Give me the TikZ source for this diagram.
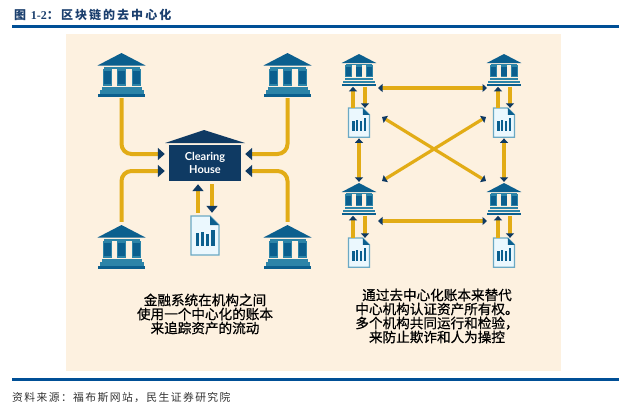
\documentclass[tikz,border=0pt]{standalone}
\usepackage{fontspec}
\setmainfont{Noto Sans CJK SC}
\newfontfamily\titlefont[LetterSpace=17]{Noto Sans CJK SC}
\newfontfamily\sourcefont[LetterSpace=13]{Noto Sans CJK SC}
\newfontfamily\notefont[FakeBold=0.6]{Noto Sans CJK SC}
\newfontfamily\numfont{Liberation Serif}
\newfontfamily\housefont{Lato}
\usetikzlibrary{arrows.meta}
\definecolor{bandblue}{HTML}{004F96}
\definecolor{titleblue}{HTML}{1B3F6E}
\definecolor{creambg}{HTML}{FDF1E0}
\definecolor{navytip}{HTML}{0F3A63}
\definecolor{bankblue}{HTML}{0B5F8E}
\definecolor{bankteal}{HTML}{2C84A8}
\definecolor{docline}{HTML}{6BA9C4}
\definecolor{goldline}{HTML}{E2AC16}
\tikzset{
  goldbig/.style={draw=goldline,line width=4pt,rounded corners=10pt,shorten >=4pt,
    -{Bar[width=0pt,length=0pt,sep=2pt]Triangle[length=7pt,width=12pt,color=navytip]}},
  goldmid/.style={draw=goldline,line width=3.5pt,
    -{Bar[width=0pt,length=0pt,sep=1pt]Triangle[length=7pt,width=11pt,color=navytip]}},
  goldsmall/.style={draw=goldline,line width=3.2pt,
    -{Triangle[length=4.5pt,width=8pt,color=navytip]}},
  goldboth/.style={draw=goldline,line width=3.2pt,
    {Triangle[length=4.5pt,width=8pt,color=navytip]}-{Triangle[length=4.5pt,width=8pt,color=navytip]}},
  notetext/.style={align=center,text=black,font=\notefont\fontsize{13.6}{14}\selectfont,inner sep=0pt},
  pics/bank/.style={code={
    \node[transform shape,minimum width=47pt,minimum height=44pt,inner sep=0pt] (-box) at (0,22) {};
    \fill[bankblue] (0,0) -- (24,12.5) -- (-24,12.5) -- cycle;
    \fill[bankteal] (-18,13.5) rectangle (18,15.5);
    \foreach \cx in {-14.5,0,14.5} {
      \fill[bankteal] (\cx-4.5,15.5) rectangle (\cx+4.5,32.5);
      \fill[bankblue] (\cx-3.5,18) rectangle (\cx+3.5,31);
    }
    \fill[bankteal] (-20,33.5) rectangle (20,36.5);
    \fill[bankteal] (-22,37) rectangle (22,40.5);
    \fill[bankblue] (-23.5,41) rectangle (23.5,44);
  }},
  pics/report/.style={code={
    \node[transform shape,minimum width=28pt,minimum height=39pt,inner sep=0pt] (-box) at (0,19.5) {};
    \draw[docline,fill=white!92!cyan,line width=1.2pt]
      (-14,0) -- (5,0) -- (14,9) -- (14,39) -- (-14,39) -- cycle;
    \fill[bankblue] (5,0) -- (14,9) -- (5,9) -- cycle;
    \foreach \bx/\by in {-7.3/17,-2.3/16,2.7/17.5,8/13.5} {
      \fill[bankblue] (\bx-1.6,\by) rectangle (\bx+1.6,30);
    }
  }},
}
\begin{document}
\begin{tikzpicture}[x=1pt,y=-1pt]
  \useasboundingbox (0,0) rectangle (634,408);
  \fill[white] (0,0) rectangle (634,408);
  % title and bands
  \node[anchor=west,inner sep=0pt,text=titleblue] (title) at (14,15)
    {\titlefont\bfseries\fontsize{12}{12}\selectfont 图 {\numfont 1-2}：区块链的去中心化};
  \fill[bandblue] (12,25) rectangle (619,28);
  \fill[creambg] (66,34) rectangle (561,371);
  \fill[bandblue] (12,378) rectangle (619,381);
  \node[anchor=west,inner sep=0pt,text=black!80] (source) at (12,397)
    {\sourcefont\fontsize{10.8}{12}\selectfont 资料来源：福布斯网站，民生证券研究院};

  % left picture
  \pic (ba) at (121.5,53) {bank};
  \pic (bb) at (287.5,53) {bank};
  \pic (bc) at (121.5,225) {bank};
  \pic (bd) at (287.5,225) {bank};
  \fill[navytip] (165,143) -- (204,130) -- (245,143) -- cycle;
  \node[fill=navytip,text=white,minimum width=72pt,minimum height=36pt,inner sep=0pt,align=center,
    font=\housefont\bfseries\fontsize{11}{12.5}\selectfont] (house) at (205,163) {Clearing\\House};
  \pic (dm) at (205,216) {report};
  \draw[goldbig,shorten <=1pt] (ba-box.south) |- ([yshift=9pt]house.west);
  \draw[goldbig,shorten <=1pt] (bb-box.south) |- ([yshift=9pt]house.east);
  \draw[goldbig,shorten <=3pt] (bc-box.north) |- ([yshift=-8pt]house.west);
  \draw[goldbig,shorten <=3pt] (bd-box.north) |- ([yshift=-8pt]house.east);
  \draw[goldmid,shorten <=3pt,shorten >=3pt] ([xshift=-7pt]dm-box.north) -- ([xshift=-7pt]house.south);
  \draw[goldmid,shorten <=3pt,shorten >=3pt] ([xshift=7pt]house.south) -- ([xshift=7pt]dm-box.north);

  % right picture
  \pic[scale=.72] (ra) at (359,54) {bank};
  \pic[scale=.72] (rb) at (504,54) {bank};
  \pic[scale=.72] (rc) at (359,183) {bank};
  \pic[scale=.72] (rd) at (504,183) {bank};
  \pic[scale=.75] (da) at (359,108) {report};
  \pic[scale=.75] (db) at (504,108) {report};
  \pic[scale=.75] (dc) at (359,238) {report};
  \pic[scale=.75] (dd) at (504,238) {report};
  \coordinate (ha) at (378,88);
  \coordinate (hb) at (487,88);
  \coordinate (hc) at (378,221);
  \coordinate (hd) at (487,221);
  \coordinate (xa) at (382,117);
  \coordinate (xb) at (486,117);
  \coordinate (xc) at (382,181);
  \coordinate (xd) at (486,181);
  \draw[goldboth] (ha) -- (hb);
  \draw[goldboth] (hc) -- (hd);
  \draw[goldboth] (xa) -- (xd);
  \draw[goldboth] (xb) -- (xc);
  \draw[goldboth,shorten <=1pt,shorten >=1pt] (da-box.south) -- (rc-box.north);
  \draw[goldboth,shorten <=1pt,shorten >=1pt] (db-box.south) -- (rd-box.north);
  \foreach \r/\d in {ra/da,rb/db,rc/dc,rd/dd} {
    \draw[goldsmall,shorten >=1pt] ([xshift=-6pt]\d-box.north) -- ([xshift=-6pt]\r-box.south);
    \draw[goldsmall,shorten <=1pt] ([xshift=6pt]\r-box.south) -- ([xshift=6pt]\d-box.north);
  }

  % notes
  \node[notetext] (noteleft) at (205,314) {金融系统在机构之间\\使用一个中心化的账本\\来追踪资产的流动};
  \node[notetext] (noteright) at (437,316) {通过去中心化账本来替代\\中心机构认证资产所有权。\\多个机构共同运行和检验，\\来防止欺诈和人为操控};
\end{tikzpicture}
\end{document}
